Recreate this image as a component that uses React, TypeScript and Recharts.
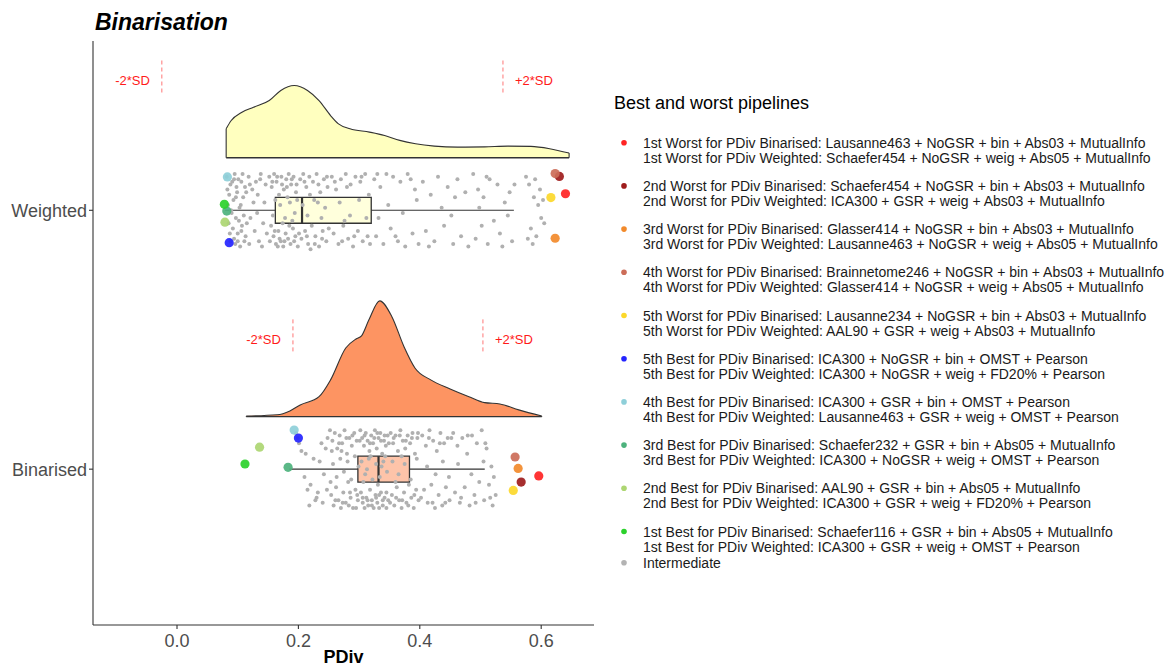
import React from "react";
import {
  ComposedChart,
  Area,
  Scatter,
  XAxis,
  YAxis,
  ReferenceArea,
  ReferenceLine,
} from "recharts";

const FONT = '"Liberation Sans", Arial, Helvetica, sans-serif';
const INK = "#333333";

// categories (bottom to top) and x ticks
const groups = ["Binarised", "Weighted"];
const groupPos: Record<string, number> = { Binarised: 1, Weighted: 2 };
const xTicks = [0, 0.2, 0.4, 0.6];

// half-violin densities: [PDiv, scaled density]
const weightedDensity = [
  [0.081, 0.112], [0.089, 0.143], [0.107, 0.176], [0.126, 0.195], [0.152, 0.221],
  [0.171, 0.26], [0.193, 0.279], [0.215, 0.26], [0.234, 0.221], [0.253, 0.163],
  [0.266, 0.131], [0.285, 0.112], [0.317, 0.099], [0.342, 0.086], [0.367, 0.067],
  [0.393, 0.054], [0.424, 0.045], [0.462, 0.041], [0.507, 0.042], [0.545, 0.045],
  [0.583, 0.044], [0.614, 0.035], [0.646, 0.018],
];
const binarisedDensity = [
  [0.114, 0.002], [0.165, 0.007], [0.186, 0.022], [0.203, 0.045], [0.234, 0.077],
  [0.253, 0.142], [0.278, 0.265], [0.295, 0.3], [0.304, 0.312], [0.316, 0.373],
  [0.334, 0.447], [0.354, 0.386], [0.374, 0.27], [0.392, 0.188], [0.418, 0.142],
  [0.45, 0.107], [0.481, 0.077], [0.507, 0.054], [0.532, 0.049], [0.563, 0.026],
  [0.601, 0.002],
];

// boxplot stats
const boxStats = [
  { group: "Binarised", lo: 0.185, q1: 0.298, med: 0.332, q3: 0.383, hi: 0.507 },
  { group: "Weighted", lo: 0.079, q1: 0.162, med: 0.206, q3: 0.32, hi: 0.555 },
];

// mean +/- 2*SD
const sdLimits = [
  { group: "Binarised", lo: 0.191, hi: 0.504 },
  { group: "Weighted", lo: -0.025, hi: 0.537 },
];

// best / worst pipelines
const rankLabels = [
  "1st Worst", "2nd Worst", "3rd Worst", "4th Worst", "5th Worst",
  "5th Best", "4th Best", "3rd Best", "2nd Best", "1st Best",
];
const rankColors = [
  "#FF2424", "#9E1C1C", "#F28A2B", "#CC6D58", "#FCD82A",
  "#2424FF", "#8ECFD9", "#4DB27D", "#ADD672", "#2BD12B",
];
const binarisedPipelines = [
  "Lausanne463 + NoGSR + bin + Abs03 + MutualInfo",
  "Schaefer454 + NoGSR + bin + Abs03 + MutualInfo",
  "Glasser414 + NoGSR + bin + Abs03 + MutualInfo",
  "Brainnetome246 + NoGSR + bin + Abs03 + MutualInfo",
  "Lausanne234 + NoGSR + bin + Abs03 + MutualInfo",
  "ICA300 + NoGSR + bin + OMST + Pearson",
  "ICA300 + GSR + bin + OMST + Pearson",
  "Schaefer232 + GSR + bin + Abs05 + MutualInfo",
  "AAL90 + GSR + bin + Abs05 + MutualInfo",
  "Schaefer116 + GSR + bin + Abs05 + MutualInfo",
];
const weightedPipelines = [
  "Schaefer454 + NoGSR + weig + Abs05 + MutualInfo",
  "ICA300 + GSR + weig + Abs03 + MutualInfo",
  "Lausanne463 + NoGSR + weig + Abs05 + MutualInfo",
  "Glasser414 + NoGSR + weig + Abs05 + MutualInfo",
  "AAL90 + GSR + weig + Abs03 + MutualInfo",
  "ICA300 + NoGSR + weig + FD20% + Pearson",
  "Lausanne463 + GSR + weig + OMST + Pearson",
  "ICA300 + NoGSR + weig + OMST + Pearson",
  "ICA300 + GSR + weig + FD20% + Pearson",
  "ICA300 + GSR + weig + OMST + Pearson",
];
// [PDiv, jitter] in rank order
const binarisedHighlight = [
  [0.596, -0.026], [0.567, -0.05], [0.562, 0.003], [0.557, 0.047], [0.554, -0.082],
  [0.2, 0.12], [0.193, 0.151], [0.183, 0.007], [0.136, 0.085], [0.112, 0.02],
];
const weightedHighlight = [
  [0.64, 0.064], [0.63, 0.131], [0.623, -0.108], [0.623, 0.142], [0.616, 0.049],
  [0.086, -0.125], [0.083, 0.129], [0.082, -0.003], [0.079, -0.046], [0.078, 0.023],
];

// intermediate pipelines: [PDiv, jitter]
const weightedPoints = [
  [0.082, 0.13], [0.088, 0.1], [0.095, 0.14], [0.101, 0.12], [0.108, 0.14], [0.112, 0.09],
  [0.086, 0.06], [0.093, 0.04], [0.099, 0.07], [0.105, 0.02], [0.09, -0.01], [0.097, -0.03],
  [0.103, 0.01], [0.11, -0.02], [0.085, -0.05], [0.092, -0.07], [0.1, -0.09], [0.107, -0.06],
  [0.113, -0.1], [0.088, -0.12], [0.096, -0.13], [0.104, -0.14], [0.111, -0.12], [0.091, 0.11],
  [0.098, 0.09], [0.106, 0.11], [0.084, 0.02], [0.094, -0.11], [0.102, -0.04], [0.109, 0.05],
  [0.083, 0.08], [0.087, -0.09], [0.094, 0.12], [0.1, -0.12], [0.106, -0.08], [0.114, 0.07],
  [0.089, 0.0], [0.097, 0.05], [0.115, -0.05],
  [0.118, 0.13], [0.124, 0.08], [0.13, 0.11], [0.138, 0.14], [0.121, -0.03], [0.128, -0.08],
  [0.135, -0.12], [0.142, -0.05], [0.119, -0.13], [0.126, 0.03], [0.133, 0.06], [0.146, 0.1],
  [0.14, -0.14], [0.148, -0.09], [0.12, 0.1], [0.132, -0.01], [0.137, 0.12], [0.144, 0.03],
  [0.152, 0.13], [0.156, 0.09], [0.16, 0.14], [0.164, 0.11], [0.168, 0.06], [0.172, 0.13],
  [0.176, 0.08], [0.18, 0.12], [0.184, 0.14], [0.188, 0.1], [0.192, 0.13], [0.196, 0.07],
  [0.155, -0.06], [0.159, -0.1], [0.163, -0.13], [0.167, -0.08], [0.171, -0.12], [0.175, -0.14],
  [0.179, -0.09], [0.183, -0.11], [0.187, -0.13], [0.191, -0.07], [0.195, -0.1], [0.199, -0.14],
  [0.158, -0.02], [0.17, 0.02], [0.178, -0.03], [0.186, 0.03], [0.194, -0.01], [0.162, 0.04],
  [0.174, -0.05], [0.182, 0.05], [0.198, 0.04], [0.166, -0.14], [0.19, -0.04],
  [0.153, -0.12], [0.157, 0.11], [0.161, -0.08], [0.165, 0.13], [0.169, -0.11], [0.173, 0.1],
  [0.177, -0.12], [0.181, 0.09], [0.185, -0.06], [0.189, 0.12], [0.193, -0.12], [0.197, 0.1],
  [0.203, 0.12], [0.208, 0.14], [0.213, 0.09], [0.218, 0.13], [0.224, 0.11], [0.23, 0.14],
  [0.236, 0.07], [0.242, 0.12], [0.248, 0.09], [0.205, -0.11], [0.211, -0.08], [0.216, -0.13],
  [0.222, -0.06], [0.228, -0.1], [0.234, -0.14], [0.24, -0.08], [0.246, -0.12], [0.207, 0.02],
  [0.215, -0.02], [0.226, 0.04], [0.238, -0.03], [0.244, 0.01], [0.22, -0.15], [0.232, 0.03],
  [0.201, -0.09], [0.21, 0.11], [0.214, -0.1], [0.219, 0.06], [0.227, -0.13], [0.233, 0.1],
  [0.239, -0.11], [0.247, 0.13], [0.25, -0.07],
  [0.255, 0.13], [0.262, 0.08], [0.27, 0.12], [0.278, 0.14], [0.286, 0.1], [0.294, 0.13],
  [0.302, 0.11], [0.31, 0.14], [0.316, 0.06], [0.258, -0.09], [0.266, -0.13], [0.274, -0.06],
  [0.282, -0.11], [0.29, -0.14], [0.298, -0.08], [0.306, -0.12], [0.314, -0.1], [0.268, 0.03],
  [0.285, -0.02], [0.3, 0.04], [0.312, -0.03], [0.276, -0.04], [0.26, 0.11], [0.272, -0.12],
  [0.28, 0.09], [0.292, -0.1], [0.304, 0.13], [0.318, -0.13],
  [0.325, 0.12], [0.335, 0.09], [0.345, 0.14], [0.356, 0.13], [0.368, 0.11], [0.38, 0.14],
  [0.392, 0.08], [0.328, -0.1], [0.34, -0.13], [0.352, -0.07], [0.364, -0.12], [0.376, -0.14],
  [0.388, -0.09], [0.398, -0.13], [0.332, -0.03], [0.348, 0.02], [0.372, -0.01], [0.395, 0.04],
  [0.33, 0.14], [0.36, -0.1], [0.385, 0.12],
  [0.405, 0.11], [0.418, 0.06], [0.43, 0.13], [0.446, 0.09], [0.462, 0.12], [0.475, 0.07],
  [0.41, -0.08], [0.424, -0.12], [0.44, -0.06], [0.455, -0.13], [0.468, -0.1], [0.48, -0.14],
  [0.436, 0.01], [0.452, -0.02], [0.415, -0.14], [0.458, 0.05],
  [0.488, 0.14], [0.496, 0.08], [0.505, 0.05], [0.515, 0.12], [0.528, 0.1], [0.54, 0.03],
  [0.548, 0.07], [0.492, -0.11], [0.502, -0.06], [0.512, -0.13], [0.522, -0.04], [0.532, -0.09],
  [0.545, -0.02], [0.552, -0.12], [0.498, 0.01], [0.536, -0.14], [0.51, 0.13], [0.556, 0.1],
  [0.575, 0.13], [0.58, 0.1], [0.588, 0.05], [0.595, 0.02], [0.6, -0.03], [0.583, -0.07],
  [0.592, -0.1], [0.605, -0.05], [0.598, 0.08], [0.586, -0.13], [0.578, -0.11], [0.59, 0.12],
  [0.603, 0.04],
];
const binarisedPoints = [
  [0.196, 0.14], [0.201, 0.1], [0.205, 0.07], [0.21, -0.03], [0.215, -0.08], [0.22, -0.06],
  [0.225, 0.04], [0.23, -0.11], [0.235, 0.03], [0.24, -0.13], [0.245, 0.08], [0.232, -0.09],
  [0.218, -0.14], [0.242, -0.02], [0.248, 0.12], [0.238, 0.1], [0.199, 0.12], [0.212, 0.06],
  [0.228, -0.12], [0.247, -0.08],
  [0.252, 0.15], [0.256, 0.11], [0.26, 0.14], [0.264, 0.08], [0.268, 0.13], [0.272, 0.1],
  [0.276, 0.15], [0.28, 0.06], [0.284, 0.12], [0.288, 0.09], [0.292, 0.14], [0.296, 0.11],
  [0.254, -0.1], [0.258, -0.14], [0.262, -0.07], [0.266, -0.12], [0.27, -0.15], [0.274, -0.09],
  [0.278, -0.13], [0.282, -0.05], [0.286, -0.11], [0.29, -0.15], [0.294, -0.08], [0.298, -0.12],
  [0.257, 0.02], [0.263, -0.03], [0.269, 0.04], [0.275, -0.01], [0.281, 0.03], [0.287, -0.04],
  [0.293, 0.05], [0.299, 0.01], [0.253, -0.05], [0.271, 0.07], [0.283, -0.14], [0.295, -0.15],
  [0.255, 0.07], [0.261, -0.12], [0.267, 0.1], [0.273, -0.13], [0.279, 0.12], [0.285, -0.09],
  [0.289, 0.13], [0.297, -0.1],
  [0.302, 0.15], [0.305, 0.12], [0.308, 0.09], [0.311, 0.14], [0.314, 0.11], [0.317, 0.07],
  [0.32, 0.13], [0.323, 0.1], [0.326, 0.15], [0.329, 0.08], [0.332, 0.12], [0.335, 0.14],
  [0.338, 0.06], [0.341, 0.11], [0.344, 0.09], [0.347, 0.13], [0.303, -0.09], [0.306, -0.13],
  [0.309, -0.15], [0.312, -0.11], [0.315, -0.14], [0.318, -0.08], [0.321, -0.12], [0.324, -0.15],
  [0.327, -0.1], [0.33, -0.13], [0.333, -0.15], [0.336, -0.09], [0.339, -0.14], [0.342, -0.11],
  [0.345, -0.15], [0.348, -0.12], [0.304, 0.03], [0.31, -0.02], [0.316, 0.04], [0.322, -0.04],
  [0.328, 0.02], [0.334, -0.03], [0.34, 0.03], [0.346, -0.01], [0.307, -0.05], [0.319, 0.05],
  [0.331, -0.06], [0.343, 0.05], [0.313, 0.0], [0.337, 0.01],
  [0.301, 0.11], [0.306, -0.11], [0.309, 0.13], [0.314, -0.12], [0.318, 0.1], [0.321, -0.14],
  [0.325, 0.12], [0.328, -0.11], [0.33, 0.14], [0.333, -0.1], [0.336, 0.11], [0.339, -0.12],
  [0.342, 0.13], [0.345, -0.09], [0.349, 0.1],
  [0.352, 0.14], [0.356, 0.1], [0.36, 0.13], [0.364, 0.07], [0.368, 0.15], [0.372, 0.11],
  [0.376, 0.08], [0.38, 0.13], [0.384, 0.1], [0.388, 0.14], [0.392, 0.06], [0.396, 0.12],
  [0.354, -0.1], [0.358, -0.14], [0.362, -0.07], [0.366, -0.12], [0.37, -0.15], [0.374, -0.09],
  [0.378, -0.13], [0.382, -0.06], [0.386, -0.11], [0.39, -0.15], [0.394, -0.08], [0.398, -0.12],
  [0.355, 0.03], [0.365, -0.02], [0.375, 0.02], [0.385, -0.04], [0.395, 0.04], [0.37, 0.05],
  [0.36, -0.05], [0.351, -0.13], [0.357, 0.12], [0.361, -0.11], [0.367, 0.13], [0.371, -0.12],
  [0.377, 0.11], [0.381, -0.14], [0.387, 0.12], [0.391, -0.1], [0.397, 0.14],
  [0.404, 0.13], [0.41, 0.09], [0.416, 0.15], [0.422, 0.11], [0.428, 0.07], [0.434, 0.14],
  [0.44, 0.1], [0.446, 0.12], [0.407, -0.08], [0.413, -0.13], [0.419, -0.06], [0.425, -0.15],
  [0.431, -0.1], [0.437, -0.14], [0.443, -0.07], [0.449, -0.12], [0.412, 0.01], [0.426, -0.02],
  [0.438, 0.03], [0.448, -0.03], [0.402, -0.11], [0.415, 0.12], [0.421, -0.13], [0.433, 0.1],
  [0.442, -0.13],
  [0.455, 0.14], [0.462, 0.09], [0.47, 0.12], [0.478, 0.06], [0.486, 0.13], [0.494, 0.1],
  [0.502, 0.15], [0.51, 0.08], [0.458, -0.09], [0.466, -0.13], [0.474, -0.07], [0.482, -0.14],
  [0.49, -0.1], [0.498, -0.05], [0.506, -0.12], [0.514, -0.06], [0.52, -0.14], [0.525, -0.1],
  [0.463, 0.02], [0.485, -0.02], [0.505, 0.03], [0.518, 0.01], [0.522, -0.03], [0.452, 0.12],
  [0.468, -0.11], [0.479, 0.13], [0.492, -0.13], [0.508, 0.1], [0.516, -0.11],
];

// layout constants (y units)
const DENSITY_OFFSET = 0.203;
const BOX_HALF = 0.05;
const SD_LINE = [0.455, 0.585];
const SD_TEXT = 0.5;

const densityRows = (d: number[][], g: string) =>
  d.map(([x, h]) => ({ x, top: groupPos[g] + DENSITY_OFFSET + h }));
const pointRows = (d: number[][], g: string) =>
  d.map(([x, j]) => ({ x, y: groupPos[g] + j }));
const highlightRows = (d: number[][], g: string) =>
  d.map(([x, j], i) => ({ x, y: groupPos[g] + j, color: rankColors[i] }));

const densities = [
  { group: "Weighted", data: weightedDensity, fill: "#FFFFBF" },
  { group: "Binarised", data: binarisedDensity, fill: "#FD9462" },
];
const boxFill: Record<string, string> = { Weighted: "#FFFFBF", Binarised: "#FD9462" };

const grayRows = [
  ...pointRows(weightedPoints, "Weighted"),
  ...pointRows(binarisedPoints, "Binarised"),
];
const colourRows = [
  ...highlightRows(weightedHighlight, "Weighted"),
  ...highlightRows(binarisedHighlight, "Binarised"),
];
const sdTextRows = sdLimits.flatMap((s) => [
  { x: s.lo, y: groupPos[s.group] + SD_TEXT, text: "-2*SD", side: -1 },
  { x: s.hi, y: groupPos[s.group] + SD_TEXT, text: "+2*SD", side: 1 },
]);

const GrayDot = (p: any) => <circle cx={p.cx} cy={p.cy} r={2} fill="#B0B0B0" />;
const ColourDot = (p: any) => (
  <circle cx={p.cx} cy={p.cy} r={4.6} fill={p.payload.color} fillOpacity={0.92} />
);
const SdText = (p: any) => (
  <text
    x={p.cx + p.payload.side * 12}
    y={p.cy}
    textAnchor={p.payload.side < 0 ? "end" : "start"}
    dominantBaseline="central"
    fontSize={13}
    fontFamily={FONT}
    fill="#FF1A1A"
  >
    {p.payload.text}
  </text>
);

function Legend() {
  const top = 142.7;
  const step = 43.2;
  return (
    <svg
      width={1173}
      height={667}
      style={{ position: "absolute", left: 0, top: 0, pointerEvents: "none" }}
      fontFamily={FONT}
    >
      <text x={95} y={30} fontSize={23} fontWeight="bold" fontStyle="italic" fill="#000">
        Binarisation
      </text>
      <text x={614} y={103} fontSize={18} dominantBaseline="central" fill="#000">
        Best and worst pipelines
      </text>
      {rankLabels.map((r, i) => {
        const y = top + i * step;
        return (
          <g key={r}>
            <circle cx={624} cy={y} r={2.8} fill={rankColors[i]} />
            <text x={643} y={y} fontSize={14} dominantBaseline="central" fill="#1A1A1A">
              {`${r} for PDiv Binarised: ${binarisedPipelines[i]}`}
            </text>
            <text x={643} y={y + 15} fontSize={14} dominantBaseline="central" fill="#1A1A1A">
              {`${r} for PDiv Weighted: ${weightedPipelines[i]}`}
            </text>
          </g>
        );
      })}
      <circle cx={624} cy={562.7} r={2.8} fill="#B3B3B3" />
      <text x={643} y={562.7} fontSize={14} dominantBaseline="central" fill="#1A1A1A">
        Intermediate
      </text>
    </svg>
  );
}

export default function App() {
  return (
    <div style={{ position: "absolute", left: 0, top: 0, width: 1173, height: 667, background: "#fff" }}>
      <ComposedChart
        width={1173}
        height={667}
        margin={{ top: 41, right: 579, bottom: 0, left: 0 }}
      >
        <XAxis
          type="number"
          dataKey="x"
          domain={[-0.1384, 0.687]}
          allowDataOverflow
          ticks={xTicks}
          interval={0}
          tickFormatter={(v: number) => v.toFixed(1)}
          height={42}
          tickSize={4}
          tickMargin={5}
          tick={{ fontSize: 18, fill: "#4D4D4D", fontFamily: FONT }}
          axisLine={{ stroke: INK, strokeWidth: 1.1 }}
          tickLine={{ stroke: INK, strokeWidth: 1.1 }}
          label={{
            value: "PDiv",
            position: "insideBottom",
            offset: 4,
            fontSize: 18,
            fontWeight: "bold",
            fill: "#000",
            fontFamily: FONT,
          }}
        />
        <YAxis
          type="number"
          dataKey="y"
          domain={[0.398, 2.654]}
          allowDataOverflow
          ticks={[1, 2]}
          interval={0}
          tickFormatter={(v: number) => groups[v - 1]}
          width={93}
          tickSize={4}
          tickMargin={2}
          tick={{ fontSize: 18, fill: "#4D4D4D", fontFamily: FONT }}
          axisLine={{ stroke: INK, strokeWidth: 1.1 }}
          tickLine={{ stroke: INK, strokeWidth: 1.1 }}
        />

        {densities.map((d) => (
          <Area
            key={d.group}
            data={densityRows(d.data, d.group)}
            dataKey="top"
            baseValue={groupPos[d.group] + DENSITY_OFFSET}
            type="monotone"
            fill={d.fill}
            fillOpacity={1}
            stroke={INK}
            strokeWidth={1.1}
            dot={false}
            activeDot={false}
            isAnimationActive={false}
          />
        ))}
        {densities.map((d) => {
          const base = groupPos[d.group] + DENSITY_OFFSET;
          const first = d.data[0];
          const last = d.data[d.data.length - 1];
          return (
            <React.Fragment key={d.group + "-edge"}>
              <ReferenceLine
                segment={[{ x: first[0], y: base }, { x: last[0], y: base }]}
                stroke={INK}
                strokeWidth={1.3}
              />
              <ReferenceLine
                segment={[{ x: first[0], y: base }, { x: first[0], y: base + first[1] }]}
                stroke={INK}
                strokeWidth={1.1}
              />
              <ReferenceLine
                segment={[{ x: last[0], y: base }, { x: last[0], y: base + last[1] }]}
                stroke={INK}
                strokeWidth={1.1}
              />
            </React.Fragment>
          );
        })}

        {sdLimits.map((s) =>
          [s.lo, s.hi].map((v, i) => (
            <ReferenceLine
              key={s.group + i}
              segment={[
                { x: v, y: groupPos[s.group] + SD_LINE[0] },
                { x: v, y: groupPos[s.group] + SD_LINE[1] },
              ]}
              stroke="#FF6666"
              strokeWidth={0.9}
              strokeDasharray="4 3"
            />
          ))
        )}
        <Scatter data={sdTextRows} dataKey="y" shape={SdText} isAnimationActive={false} />

        <Scatter data={grayRows} dataKey="y" shape={GrayDot} isAnimationActive={false} />

        {boxStats.map((b) => {
          const c = groupPos[b.group];
          return (
            <React.Fragment key={b.group + "-box"}>
              <ReferenceLine segment={[{ x: b.lo, y: c }, { x: b.q1, y: c }]} stroke={INK} strokeWidth={1.1} />
              <ReferenceLine segment={[{ x: b.q3, y: c }, { x: b.hi, y: c }]} stroke={INK} strokeWidth={1.1} />
              <ReferenceArea
                x1={b.q1}
                x2={b.q3}
                y1={c - BOX_HALF}
                y2={c + BOX_HALF}
                fill={boxFill[b.group]}
                fillOpacity={0.55}
                stroke={INK}
                strokeWidth={1.3}
              />
              <ReferenceLine
                segment={[{ x: b.med, y: c - BOX_HALF }, { x: b.med, y: c + BOX_HALF }]}
                stroke={INK}
                strokeWidth={2.2}
              />
            </React.Fragment>
          );
        })}

        <Scatter data={colourRows} dataKey="y" shape={ColourDot} isAnimationActive={false} />
      </ComposedChart>
      <Legend />
    </div>
  );
}
